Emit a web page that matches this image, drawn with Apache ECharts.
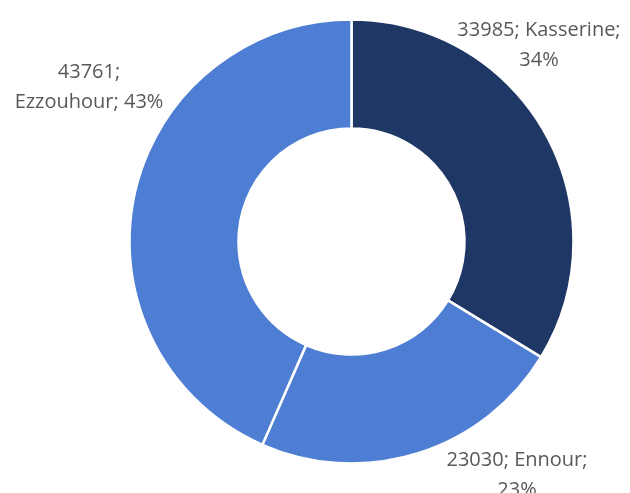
<!DOCTYPE html>
<html lang="en">
<head>
    <meta charset="UTF-8">
    <title>Donut</title>
    <script src="https://cdn.jsdelivr.net/npm/echarts@6/dist/echarts.min.js"></script>
    <style>
        html, body { margin: 0; padding: 0; background: #ffffff; }
    </style>
</head>
<body>
    <div id="chart" style="width: 630px; height: 493px;"></div>

    <script>
        // data
        const names = ['Kasserine', 'Ennour', 'Ezzouhour'];
        const values = [33985, 23030, 43761];
        const colors = ['#1e3765', '#4d7ed3', '#4d7ed3'];
        // where Excel wrapped each label: 0 = after name, 1 = after value
        const wrapAfter = [0, 0, 1];

        // label centres (x, y) in the picture
        const labelSpots = [[539, 45], [517, 475], [89, 87]];

        const chart = echarts.init(document.getElementById('chart'));

        chart.setOption({
            animation: false,
            series: [{
                type: 'pie',
                center: [351.5, 241.5],
                radius: [113, 222],
                startAngle: 90,
                clockwise: true,
                silent: true,
                percentPrecision: 0,
                itemStyle: {
                    borderColor: '#ffffff',
                    borderWidth: 2.5
                },
                label: {
                    show: true,
                    position: 'outside',
                    overflow: 'none',
                    color: '#595959',
                    fontFamily: 'Open Sans',
                    fontSize: 20,
                    lineHeight: 30,
                    align: 'center',
                    formatter: p => wrapAfter[p.dataIndex] === 1
                        ? `${p.value};\n${p.name}; ${p.percent}%`
                        : `${p.value}; ${p.name};\n${p.percent}%`
                },
                labelLine: { show: false },
                labelLayout: p => ({
                    x: labelSpots[p.dataIndex][0],
                    y: labelSpots[p.dataIndex][1],
                    align: 'center',
                    verticalAlign: 'middle'
                }),
                data: names.map((n, i) => ({
                    name: n,
                    value: values[i],
                    itemStyle: { color: colors[i] }
                }))
            }]
        });
    </script>
</body>
</html>
